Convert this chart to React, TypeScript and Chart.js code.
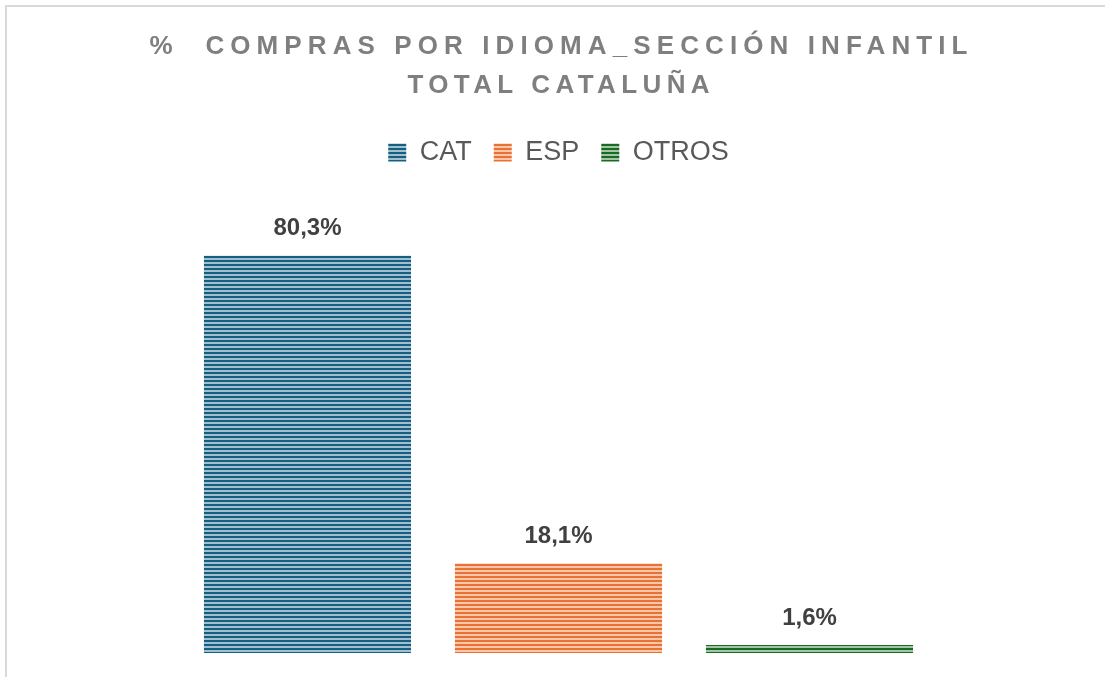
import React, { useEffect, useRef } from 'react';
import { Chart, registerables } from 'chart.js';

Chart.register(...registerables);

const categories = ['Total Cataluña'];
const seriesNames = ['CAT', 'ESP', 'OTROS'];
const catValues = [80.3];
const espValues = [18.1];
const otrosValues = [1.6];
const seriesColors = ['#156082', '#E97132', '#196B24'];
const titleLines = ['%  COMPRAS POR IDIOMA_SECCIÓN INFANTIL', 'TOTAL CATALUÑA'];
const yMax = 96.4;

function mix(hex: string, t: number): string {
  const n = parseInt(hex.slice(1), 16);
  const r = (n >> 16) & 255;
  const g = (n >> 8) & 255;
  const b = n & 255;
  const m = (c: number) => Math.round(c * t + 255 * (1 - t));
  return `rgb(${m(r)},${m(g)},${m(b)})`;
}

function makePattern(target: CanvasRenderingContext2D, hex: string): CanvasPattern | string {
  const c = document.createElement('canvas');
  c.width = 4;
  c.height = 4;
  const ctx = c.getContext('2d');
  if (!ctx) return hex;
  ctx.fillStyle = mix(hex, 0.4);
  ctx.fillRect(0, 0, 4, 4);
  ctx.fillStyle = hex;
  ctx.fillRect(0, 0, 4, 2);
  const p = target.createPattern(c, 'repeat');
  return p || hex;
}

const titlePlugin = {
  id: 'customTitle',
  afterDraw(chart: any) {
    const ctx = chart.ctx as CanvasRenderingContext2D;
    const area = chart.chartArea;
    const cx = (area.left + area.right) / 2;
    const spacings = [6.1, 5.4];
    const ys = [47, 86];
    ctx.save();
    ctx.font = 'bold 26px "Liberation Sans", Arial, sans-serif';
    ctx.fillStyle = '#7f7f7f';
    ctx.textBaseline = 'middle';
    ctx.textAlign = 'center';
    titleLines.forEach((line, i) => {
      (ctx as any).letterSpacing = spacings[i] + 'px';
      ctx.fillText(line, cx + spacings[i] / 2, ys[i]);
    });
    ctx.restore();
  },
};

const labelPlugin = {
  id: 'valueLabels',
  afterDatasetsDraw(chart: any) {
    const ctx = chart.ctx as CanvasRenderingContext2D;
    ctx.save();
    ctx.font = 'bold 24px "Liberation Sans", Arial, sans-serif';
    ctx.fillStyle = '#404040';
    ctx.textAlign = 'center';
    ctx.textBaseline = 'middle';
    chart.data.datasets.forEach((ds: any, i: number) => {
      const meta = chart.getDatasetMeta(i);
      meta.data.forEach((bar: any, j: number) => {
        const v = ds.data[j] as number;
        ctx.fillText(v.toFixed(1).replace('.', ',') + '%', bar.x, bar.y - 27);
      });
    });
    ctx.restore();
  },
};

export default function App() {
  const canvasRef = useRef<HTMLCanvasElement | null>(null);

  useEffect(() => {
    const canvas = canvasRef.current;
    if (!canvas) return;
    const ctx = canvas.getContext('2d') as CanvasRenderingContext2D;
    const values = [catValues, espValues, otrosValues];
    const chart = new Chart(canvas, {
      type: 'bar',
      data: {
        labels: categories,
        datasets: seriesNames.map((name, i) => ({
          label: name,
          data: values[i],
          backgroundColor: makePattern(ctx, seriesColors[i]) as any,
          borderWidth: 0,
          categoryPercentage: 0.7206,
          barPercentage: 0.825,
        })),
      },
      options: {
        responsive: false,
        animation: false,
        devicePixelRatio: 1,
        layout: { padding: { top: 117, left: 36, right: 24, bottom: 24 } },
        plugins: {
          legend: {
            display: true,
            position: 'top',
            labels: {
              boxWidth: 18,
              boxHeight: 18,
              padding: 22,
              color: '#595959',
              font: { family: '"Liberation Sans", Arial, sans-serif', size: 27 },
            },
          },
          title: { display: false },
          tooltip: { enabled: false },
        },
        scales: {
          x: { display: false, grid: { display: false } },
          y: { display: false, min: 0, max: yMax, grid: { display: false } },
        },
      },
      plugins: [titlePlugin, labelPlugin],
    });
    return () => chart.destroy();
  }, []);

  return (
    <div
      style={{
        position: 'fixed',
        left: 0,
        top: 0,
        width: 1105,
        height: 677,
        overflow: 'hidden',
        background: '#ffffff',
      }}
    >
      <div
        style={{
          position: 'absolute',
          left: 5,
          top: 5,
          width: 1200,
          height: 800,
          border: '2px solid #d9d9d9',
          boxSizing: 'border-box',
        }}
      />
      <canvas
        ref={canvasRef}
        width={1105}
        height={677}
        style={{ position: 'absolute', left: 0, top: 0, width: 1105, height: 677 }}
      />
    </div>
  );
}
